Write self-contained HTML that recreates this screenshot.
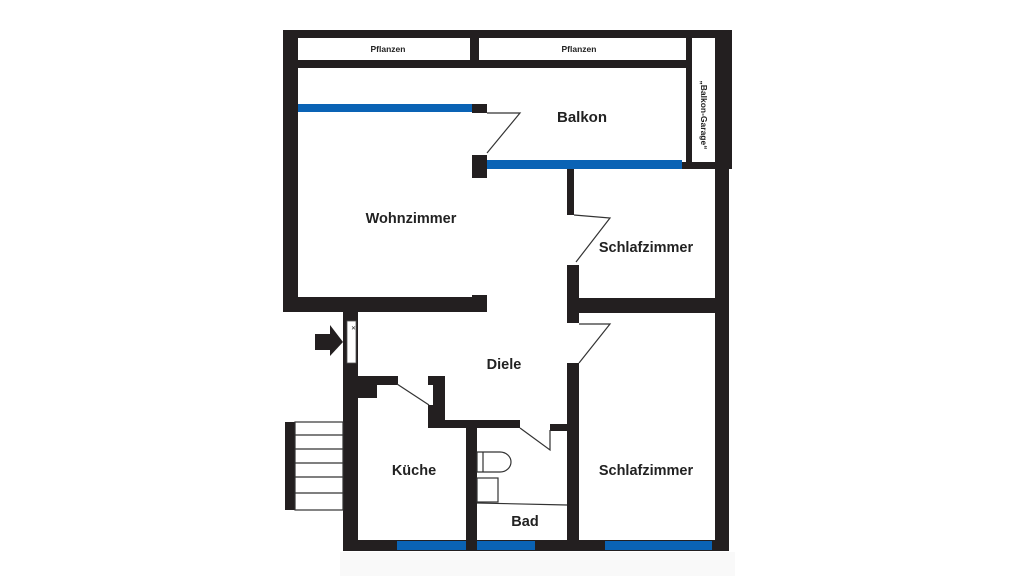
<!DOCTYPE html>
<html><head><meta charset="utf-8"><style>
html,body{margin:0;padding:0;background:#fff;width:1024px;height:576px;overflow:hidden}
text{font-family:"Liberation Sans",sans-serif;font-weight:bold;fill:#222}
</style></head><body>
<svg width="1024" height="576" viewBox="0 0 1024 576" xmlns="http://www.w3.org/2000/svg">
<rect x="0" y="0" width="1024" height="576" fill="#fff"/>
<rect x="340" y="552" width="395" height="24" fill="#f9f9f9"/>
<g fill="#231f20">
<!-- top frame -->
<rect x="283" y="30" width="449" height="8"/>
<rect x="283" y="30" width="15" height="282"/>
<rect x="470" y="37" width="9" height="25"/>
<rect x="298" y="60" width="394" height="8"/>
<rect x="686" y="38" width="6" height="131"/>
<rect x="715" y="30" width="17" height="139"/>
<rect x="715" y="160" width="14" height="391"/>
<rect x="682" y="162" width="47" height="7"/>
<!-- balkon posts -->
<rect x="472" y="104" width="15" height="9"/>
<rect x="472" y="155" width="15" height="23"/>
<!-- wohnzimmer bottom -->
<rect x="283" y="297" width="189" height="15"/>
<rect x="472" y="295" width="15" height="17"/>
<!-- entrance wall -->
<rect x="343" y="312" width="15" height="239"/>
<!-- right inner walls -->
<rect x="567" y="169" width="7" height="46"/>
<rect x="567" y="265" width="12" height="58"/>
<rect x="567" y="298" width="148" height="15"/>
<rect x="567" y="363" width="12" height="188"/>
<!-- kitchen top -->
<rect x="358" y="376" width="40" height="9"/>
<rect x="358" y="376" width="19" height="22"/>
<rect x="428" y="376" width="17" height="52"/>
<rect x="434" y="420" width="86" height="8"/>
<rect x="550" y="424" width="17" height="7"/>
<rect x="466" y="423" width="11" height="128"/>
<!-- bottom wall -->
<rect x="343" y="540" width="386" height="11"/>
<!-- stairs bar -->
<rect x="285" y="422" width="10" height="88"/>
<!-- arrow -->
<rect x="315" y="334" width="18" height="16"/>
<polygon points="330,325 343,342 330,356"/>
</g>
<!-- white notch -->
<rect x="428" y="385" width="5" height="20" fill="#fff"/>
<!-- entrance door glyph -->
<rect x="347" y="321" width="9" height="42" fill="#fff" stroke="#555" stroke-width="0.8"/>
<text x="351" y="330" font-size="6" style="font-weight:normal">✕</text>
<!-- blue windows -->
<g fill="#0a63b5">
<rect x="298" y="104" width="174" height="8"/>
<rect x="487" y="160" width="195" height="9"/>
<rect x="397" y="541" width="69" height="9"/>
<rect x="477" y="541" width="58" height="9"/>
<rect x="605" y="541" width="107" height="9"/>
</g>
<!-- door swings -->
<g fill="none" stroke="#333" stroke-width="1.2">
<polyline points="487,113 520,113 487,153"/>
<polyline points="574,215 610,218 576,262"/>
<polyline points="579,324 610,324 579,363"/>
<line x1="397" y1="384" x2="429" y2="405"/>
<polyline points="520,428 550,450 550,430"/>
<!-- toilet -->
<path d="M477,452 H500 A11,10 0 0 1 500,472 H477 Z"/>
<line x1="483" y1="452" x2="483" y2="472"/>
<rect x="477" y="478" width="21" height="24"/>
<line x1="477" y1="503" x2="567" y2="505"/>
<!-- stairs -->
<rect x="295" y="422" width="48" height="88"/>
<line x1="295" y1="435" x2="343" y2="435"/>
<line x1="295" y1="449" x2="343" y2="449"/>
<line x1="295" y1="463" x2="343" y2="463"/>
<line x1="295" y1="477" x2="343" y2="477"/>
<line x1="295" y1="493" x2="343" y2="493"/>
</g>
<!-- labels -->
<text x="388" y="52" font-size="8.5" text-anchor="middle">Pflanzen</text>
<text x="579" y="52" font-size="8.5" text-anchor="middle">Pflanzen</text>
<text x="582" y="122" font-size="15" text-anchor="middle">Balkon</text>
<text x="411" y="223" font-size="14.5" text-anchor="middle">Wohnzimmer</text>
<text x="646" y="252" font-size="14.5" text-anchor="middle">Schlafzimmer</text>
<text x="504" y="369" font-size="14.5" text-anchor="middle">Diele</text>
<text x="414" y="475" font-size="14.5" text-anchor="middle">Küche</text>
<text x="646" y="475" font-size="14.5" text-anchor="middle">Schlafzimmer</text>
<text x="525" y="526" font-size="14.5" text-anchor="middle">Bad</text>
<text x="0" y="0" font-size="8.5" text-anchor="middle" transform="translate(701,115) rotate(90)">„Balkon-Garage“</text>
</svg>
</body></html>
